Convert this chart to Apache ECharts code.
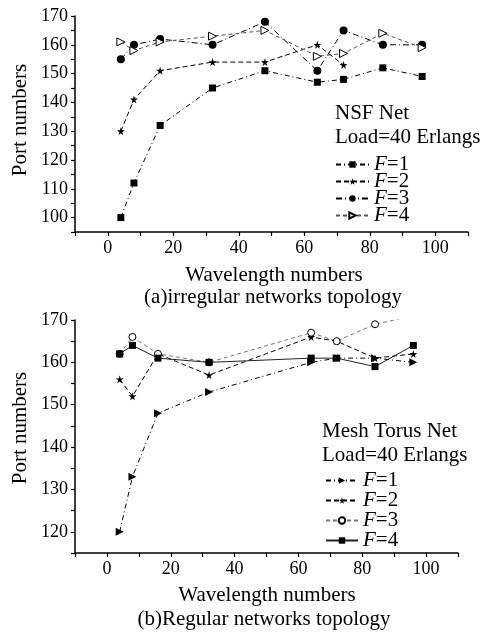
<!DOCTYPE html>
<html>
<head>
<meta charset="utf-8">
<script src="https://cdn.jsdelivr.net/npm/echarts@6/dist/echarts.min.js"></script>
<style>
html,body{margin:0;padding:0;background:#fff;}
#c{width:480px;height:634px;}
</style>
</head>
<body>
<div id="c"></div>
<script>
// ---- data ----
const nsfWavelengths = [4, 8, 16, 32, 48, 64, 72, 84, 96];
const nsfF1 = [100, 112, 132, 145, 151, 147, 148, 152, 149];
const nsfF2 = [130, 141, 151, 154, 154, 160, 153, null, null];
const nsfF3 = [155, 160, 162, 160, 168, 151, 165, 160, 160];
const nsfF4 = [161, 158, 161, 163, 165, 156, 157, 164, 159];

const meshWavelengths = [4, 8, 16, 32, 64, 72, 84, 96];
const meshF1 = [120, 133, 148, 153, 160, 161, 161, 160];
const meshF2 = [156, 152, 162, 157, 166, 165, 161, 162];
const meshF3 = [162, 166, 162, 160, 167, 165, 169, 171];
const meshF4 = [162, 164, 161, 160, 161, 161, 159, 164];

const xTickLabels = ['0', '20', '40', '60', '80', '100'];
const nsfYTickLabels = ['100', '110', '120', '130', '140', '150', '160', '170'];
const meshYTickLabels = ['120', '130', '140', '150', '160', '170'];

const FONT = 'Liberation Serif';
const STAR = 'path://M50,0 L61,35 L98,35 L68,57 L79,91 L50,70 L21,91 L32,57 L2,35 L39,35 Z';
const TRI_R = 'path://M0,0 L10,5 L0,10 Z';

function pairs(xs, ys) { return xs.map((x, i) => [x, ys[i]]); }

function xAxis(gi) {
  return {
    type: 'value', gridIndex: gi, min: -10, max: 110, interval: 10,
    axisLine: { show: true, onZero: false, lineStyle: { color: '#000', width: 1.5 } },
    axisTick: { show: true, inside: false, length: 4, lineStyle: { color: '#000', width: 1.2 } },
    splitLine: { show: false },
    axisLabel: {
      color: '#000', fontFamily: FONT, fontSize: 18, margin: 7,
      formatter: v => xTickLabels.includes(String(v)) ? String(v) : ''
    }
  };
}
function yAxis(gi, min, labels) {
  return {
    type: 'value', gridIndex: gi, min: min, max: 170, interval: 5,
    axisLine: { show: true, onZero: false, lineStyle: { color: '#000', width: 1.5 } },
    axisTick: { show: true, inside: false, length: 4, lineStyle: { color: '#000', width: 1.2 } },
    splitLine: { show: false },
    axisLabel: {
      color: '#000', fontFamily: FONT, fontSize: 18, margin: 7,
      formatter: v => labels.includes(String(v)) ? String(v) : ''
    }
  };
}

function ser(name, gi, xs, ys, symbol, size, fill, lineColor, dash) {
  return {
    name: name, type: 'line', xAxisIndex: gi, yAxisIndex: gi,
    data: pairs(xs, ys), symbol: symbol, symbolSize: size,
    showSymbol: true, clip: true, connectNulls: false,
    itemStyle: { color: fill, borderColor: '#000', borderWidth: fill === '#fff' ? 1 : 0 },
    lineStyle: { color: lineColor, width: 1, type: dash },
    emphasis: { disabled: true }, animation: false
  };
}

function legText() {
  return {
    color: '#000', fontFamily: FONT, fontSize: 21,
    rich: { i: { fontStyle: 'italic', fontFamily: FONT, fontSize: 21, color: '#000' } }
  };
}
const legFmt = n => '{i|F}=' + n.slice(-1);

const option = {
  backgroundColor: '#fff',
  animation: false,
  grid: [
    { left: 75, top: 16, width: 393, height: 216 },
    { left: 75, top: 320, width: 383, height: 233 }
  ],
  xAxis: [xAxis(0), xAxis(1)],
  yAxis: [yAxis(0, 95, nsfYTickLabels), yAxis(1, 115, meshYTickLabels)],
  legend: [
    {
      data: ['a F=1', 'a F=2', 'a F=3', 'a F=4'], orient: 'vertical', padding: 0,
      left: 335, top: 154, itemGap: -4, itemWidth: 33, itemHeight: 8,
      formatter: legFmt, textStyle: legText(), selectedMode: false
    },
    {
      data: ['b F=1', 'b F=2', 'b F=3', 'b F=4'], orient: 'vertical', padding: 0,
      left: 325, top: 470, itemGap: -1, itemWidth: 32, itemHeight: 8,
      formatter: legFmt, textStyle: legText(), selectedMode: false
    }
  ],
  graphic: [
    { type: 'text', left: 335, top: 103, style: { text: 'NSF Net', font: '21px "Liberation Serif"', fill: '#000' } },
    { type: 'text', left: 335, top: 127, style: { text: 'Load=40 Erlangs', font: '21px "Liberation Serif"', fill: '#000' } },
    { type: 'text', left: 322, top: 421, style: { text: 'Mesh Torus Net', font: '21px "Liberation Serif"', fill: '#000' } },
    { type: 'text', left: 322, top: 445, style: { text: 'Load=40 Erlangs', font: '21px "Liberation Serif"', fill: '#000' } },
    { type: 'text', x: 20, y: 120, rotation: Math.PI / 2, style: { text: 'Port numbers', font: '21px "Liberation Serif"', fill: '#000', align: 'center', verticalAlign: 'middle' } },
    { type: 'text', x: 20, y: 428, rotation: Math.PI / 2, style: { text: 'Port numbers', font: '21px "Liberation Serif"', fill: '#000', align: 'center', verticalAlign: 'middle' } },
    { type: 'text', x: 274, y: 275, style: { text: 'Wavelength numbers', font: '21px "Liberation Serif"', fill: '#000', align: 'center', verticalAlign: 'middle' } },
    { type: 'text', x: 273, y: 297, style: { text: '(a)irregular networks topology', font: '21px "Liberation Serif"', fill: '#000', align: 'center', verticalAlign: 'middle' } },
    { type: 'text', x: 267, y: 595, style: { text: 'Wavelength numbers', font: '21px "Liberation Serif"', fill: '#000', align: 'center', verticalAlign: 'middle' } },
    { type: 'text', x: 264, y: 619, style: { text: '(b)Regular networks topology', font: '21px "Liberation Serif"', fill: '#000', align: 'center', verticalAlign: 'middle' } }
  ],
  series: [
    ser('a F=1', 0, nsfWavelengths, nsfF1, 'rect', 7, '#000', '#000', [5, 3, 1, 3]),
    ser('a F=2', 0, nsfWavelengths, nsfF2, STAR, 8, '#000', '#000', [5, 3]),
    ser('a F=3', 0, nsfWavelengths, nsfF3, 'circle', 8, '#000', '#000', [6, 3, 1, 3]),
    ser('a F=4', 0, nsfWavelengths, nsfF4, TRI_R, 8, '#fff', '#555', [4, 3]),
    ser('b F=1', 1, meshWavelengths, meshF1, TRI_R, 8, '#000', '#000', [5, 3, 1, 3]),
    ser('b F=2', 1, meshWavelengths, meshF2, STAR, 8, '#000', '#000', [5, 3]),
    ser('b F=3', 1, meshWavelengths, meshF3, 'circle', 7, '#fff', '#777', [4, 3]),
    ser('b F=4', 1, meshWavelengths, meshF4, 'rect', 7, '#000', '#222', 'solid')
  ]
};

const chart = echarts.init(document.getElementById('c'), null, { renderer: 'canvas' });
chart.setOption(option);
</script>
</body>
</html>
